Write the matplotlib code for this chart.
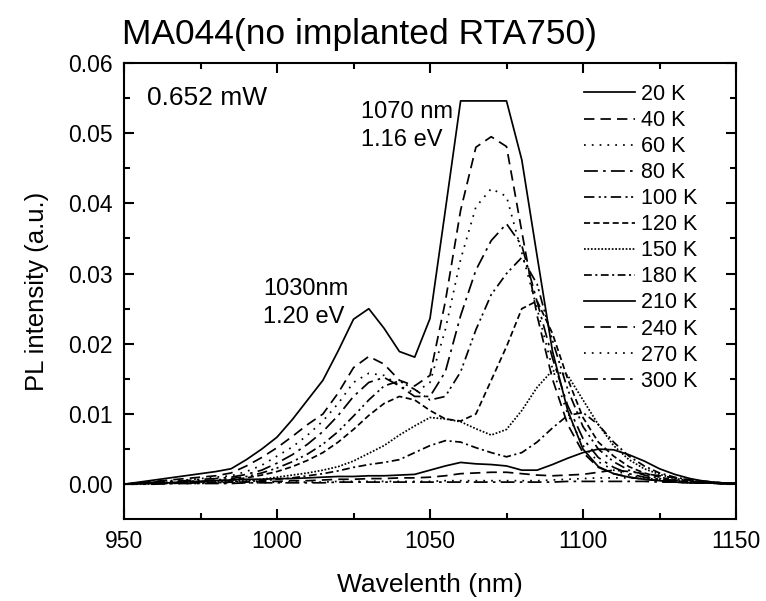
import matplotlib
matplotlib.use("Agg")
import matplotlib.pyplot as plt
import numpy as np

plt.rcParams['font.family'] = ['Liberation Sans', 'DejaVu Sans']

wavelength = list(range(950, 1155, 5))

labels = ["20 K", "40 K", "60 K", "80 K", "100 K", "120 K",
          "150 K", "180 K", "210 K", "240 K", "270 K", "300 K"]

# values at 950,955,...,1150 nm
pl_20K = [0.0000, 0.0003, 0.0006, 0.0009, 0.0012, 0.0015, 0.0018, 0.0022, 0.0035, 0.0050,
          0.0067, 0.0092, 0.0120, 0.0148, 0.0190, 0.0235, 0.0250, 0.0222, 0.0189, 0.0181,
          0.0236, 0.0390, 0.0546, 0.0546, 0.0546, 0.0546, 0.0462, 0.0325, 0.0190, 0.0105,
          0.0050, 0.0025, 0.0015, 0.0010, 0.0007, 0.0005, 0.0003, 0.0002, 0.0002, 0.0001, 0.0001]
pl_40K = [0.0000, 0.0002, 0.0004, 0.0006, 0.0008, 0.0010, 0.0012, 0.0016, 0.0026, 0.0038,
          0.0052, 0.0068, 0.0085, 0.0100, 0.0130, 0.0166, 0.0182, 0.0171, 0.0148, 0.0140,
          0.0155, 0.0260, 0.0390, 0.0480, 0.0495, 0.0481, 0.0360, 0.0240, 0.0150, 0.0085,
          0.0045, 0.0024, 0.0015, 0.0010, 0.0007, 0.0005, 0.0003, 0.0002, 0.0002, 0.0001, 0.0001]
pl_60K = [0.0000, 0.0002, 0.0003, 0.0005, 0.0006, 0.0008, 0.0010, 0.0012, 0.0018, 0.0027,
          0.0040, 0.0053, 0.0070, 0.0090, 0.0115, 0.0145, 0.0158, 0.0155, 0.0140, 0.0130,
          0.0145, 0.0220, 0.0320, 0.0395, 0.0421, 0.0410, 0.0330, 0.0250, 0.0165, 0.0100,
          0.0055, 0.0032, 0.0020, 0.0013, 0.0009, 0.0006, 0.0004, 0.0003, 0.0002, 0.0001, 0.0001]
pl_80K = [0.0000, 0.0001, 0.0003, 0.0004, 0.0005, 0.0007, 0.0008, 0.0010, 0.0014, 0.0020,
          0.0030, 0.0042, 0.0057, 0.0075, 0.0098, 0.0125, 0.0145, 0.0152, 0.0140, 0.0125,
          0.0125, 0.0160, 0.0240, 0.0305, 0.0347, 0.0371, 0.0340, 0.0260, 0.0180, 0.0112,
          0.0065, 0.0038, 0.0024, 0.0015, 0.0010, 0.0007, 0.0005, 0.0003, 0.0002, 0.0001, 0.0001]
pl_100K = [0.0000, 0.0001, 0.0002, 0.0003, 0.0004, 0.0005, 0.0006, 0.0008, 0.0011, 0.0016,
           0.0023, 0.0032, 0.0043, 0.0057, 0.0075, 0.0097, 0.0120, 0.0140, 0.0147, 0.0135,
           0.0120, 0.0125, 0.0160, 0.0220, 0.0270, 0.0300, 0.0323, 0.0285, 0.0205, 0.0135,
           0.0082, 0.0050, 0.0032, 0.0020, 0.0013, 0.0008, 0.0005, 0.0003, 0.0002, 0.0001, 0.0001]
pl_120K = [0.0000, 0.0001, 0.0002, 0.0002, 0.0003, 0.0004, 0.0005, 0.0006, 0.0009, 0.0013,
           0.0018, 0.0025, 0.0034, 0.0045, 0.0060, 0.0078, 0.0098, 0.0115, 0.0125, 0.0120,
           0.0105, 0.0093, 0.0090, 0.0100, 0.0148, 0.0196, 0.0250, 0.0261, 0.0215, 0.0150,
           0.0095, 0.0060, 0.0040, 0.0025, 0.0016, 0.0010, 0.0006, 0.0004, 0.0002, 0.0001, 0.0001]
pl_150K = [0.0000, 0.0001, 0.0001, 0.0002, 0.0002, 0.0003, 0.0003, 0.0004, 0.0005, 0.0007,
           0.0010, 0.0013, 0.0016, 0.0020, 0.0025, 0.0033, 0.0044, 0.0055, 0.0070, 0.0083,
           0.0095, 0.0093, 0.0089, 0.0079, 0.0070, 0.0078, 0.0105, 0.0138, 0.0162, 0.0155,
           0.0120, 0.0085, 0.0055, 0.0035, 0.0022, 0.0014, 0.0008, 0.0005, 0.0003, 0.0002, 0.0001]
pl_180K = [0.0000, 0.0001, 0.0001, 0.0001, 0.0002, 0.0002, 0.0002, 0.0003, 0.0004, 0.0005,
           0.0007, 0.0009, 0.0012, 0.0015, 0.0019, 0.0024, 0.0028, 0.0031, 0.0035, 0.0045,
           0.0055, 0.0062, 0.0060, 0.0052, 0.0045, 0.0039, 0.0045, 0.0060, 0.0080, 0.0098,
           0.0102, 0.0085, 0.0060, 0.0040, 0.0026, 0.0016, 0.0010, 0.0006, 0.0004, 0.0002, 0.0001]
pl_210K = [0.0000, 0.0001, 0.0002, 0.0002, 0.0003, 0.0004, 0.0005, 0.0006, 0.0007, 0.0007,
           0.0008, 0.0008, 0.0009, 0.0010, 0.0011, 0.0011, 0.0012, 0.0012, 0.0013, 0.0014,
           0.0020, 0.0026, 0.0031, 0.0029, 0.0028, 0.0026, 0.0020, 0.0020, 0.0028, 0.0037,
           0.0045, 0.0050, 0.0049, 0.0042, 0.0033, 0.0022, 0.0014, 0.0008, 0.0004, 0.0002, 0.0001]
pl_240K = [0.0000, 0.0001, 0.0001, 0.0001, 0.0002, 0.0002, 0.0002, 0.0003, 0.0003, 0.0004,
           0.0004, 0.0005, 0.0005, 0.0006, 0.0007, 0.0007, 0.0008, 0.0008, 0.0009, 0.0009,
           0.0010, 0.0012, 0.0015, 0.0016, 0.0017, 0.0017, 0.0015, 0.0013, 0.0012, 0.0013,
           0.0014, 0.0017, 0.0020, 0.0018, 0.0015, 0.0012, 0.0009, 0.0006, 0.0004, 0.0002, 0.0001]
pl_270K = [0.0000, 0.0000, 0.0001, 0.0001, 0.0001, 0.0001, 0.0002, 0.0002, 0.0002, 0.0002,
           0.0003, 0.0003, 0.0003, 0.0003, 0.0004, 0.0004, 0.0004, 0.0004, 0.0004, 0.0004,
           0.0004, 0.0005, 0.0005, 0.0005, 0.0005, 0.0005, 0.0005, 0.0005, 0.0006, 0.0007,
           0.0008, 0.0009, 0.0009, 0.0009, 0.0008, 0.0006, 0.0005, 0.0004, 0.0003, 0.0002, 0.0001]
pl_300K = [0.0000, 0.0000, 0.0000, 0.0001, 0.0001, 0.0001, 0.0001, 0.0001, 0.0002, 0.0002,
           0.0002, 0.0002, 0.0002, 0.0002, 0.0003, 0.0003, 0.0003, 0.0003, 0.0003, 0.0003,
           0.0003, 0.0003, 0.0003, 0.0003, 0.0003, 0.0003, 0.0003, 0.0003, 0.0003, 0.0004,
           0.0004, 0.0004, 0.0004, 0.0004, 0.0004, 0.0003, 0.0003, 0.0002, 0.0002, 0.0001, 0.0001]

series = [pl_20K, pl_40K, pl_60K, pl_80K, pl_100K, pl_120K,
          pl_150K, pl_180K, pl_210K, pl_240K, pl_270K, pl_300K]

styles = ['-', (0, (6, 3.5)), (0, (1, 3.5)), (0, (8, 3, 1.5, 3)),
          (0, (6, 2.5, 1.2, 2, 1.2, 2.5)), (0, (3.5, 2)), (0, (1, 1)),
          (0, (4.5, 2, 1.2, 2)), '-', (0, (6, 3.5)), (0, (1, 3.5)), (0, (8, 3, 1.5, 3))]

xticks_major = [950, 1000, 1050, 1100, 1150]
xticks_minor = [975, 1025, 1075, 1125]
yticks_major = [0.0, 0.01, 0.02, 0.03, 0.04, 0.05, 0.06]
yticks_minor = [0.005, 0.015, 0.025, 0.035, 0.045, 0.055]

fig = plt.figure(figsize=(7.66, 6.01), dpi=100)
ax = fig.add_axes([124/766, 1-519.3/601, (736-124)/766, (519.3-63)/601])

for y, lab, ls in zip(series, labels, styles):
    ax.plot(wavelength, y, color='black', lw=1.25, linestyle=ls, label=lab)

ax.set_xlim(950, 1150)
ax.set_ylim(-0.005, 0.06)
ax.set_xticks(xticks_major)
ax.set_xticks(xticks_minor, minor=True)
ax.set_yticks(yticks_major)
ax.set_yticklabels([f"{v:.2f}" for v in yticks_major])
ax.set_yticks(yticks_minor, minor=True)
ax.tick_params(which='both', direction='in', top=True, right=True, labelsize=16.5, width=1.5, pad=8)
ax.tick_params(which='major', length=7)
ax.tick_params(which='minor', length=4)
for s in ax.spines.values():
    s.set_linewidth(1.5)

ax.set_xlabel("Wavelenth (nm)", fontsize=19, labelpad=14)
ax.set_ylabel("PL intensity (a.u.)", fontsize=18.5, labelpad=14)

fig.text(122/766, 1-44/601, "MA044(no implanted RTA750)", fontsize=25.5, ha='left', va='baseline')

fig.text(147/766, 1-105/601, "0.652 mW", fontsize=19, ha='left', va='baseline')
fig.text(361/766, 1-118/601, "1070 nm", fontsize=17, ha='left', va='baseline')
fig.text(361/766, 1-146/601, "1.16 eV", fontsize=17, ha='left', va='baseline')
fig.text(263/766, 1-295/601, "1030nm", fontsize=17, ha='left', va='baseline')
fig.text(263/766, 1-323/601, "1.20 eV", fontsize=17, ha='left', va='baseline')

leg = ax.legend(loc='upper left', bbox_to_anchor=((584-124)/612, (519.3-84)/456.3),
                frameon=False, fontsize=15.5, handlelength=2.35, handletextpad=0.28,
                labelspacing=0.235, borderpad=0, borderaxespad=0)

fig.savefig("out.png", dpi=100)
